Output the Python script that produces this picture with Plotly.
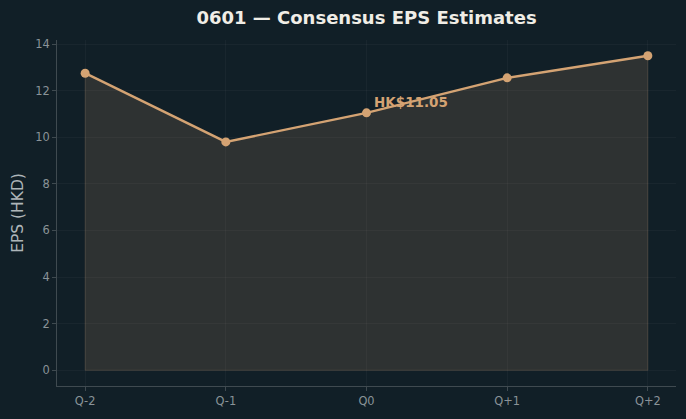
import plotly.graph_objects as go

quarters = ["Q-2", "Q-1", "Q0", "Q+1", "Q+2"]
eps = [12.75, 9.80, 11.05, 12.55, 13.50]
highlight_idx = 2
highlight_label = "HK$11.05"

BG = "#111f27"
ORANGE = "#d4a373"
FILL = "rgba(212,163,115,0.15)"
GRID = "rgba(255,255,255,0.035)"
TICK = "#8a9398"
SPINE = "#3f4a50"

fig = go.Figure()

# fill polygon (area to zero) with faint edge
fig.add_trace(go.Scatter(
    x=quarters + [quarters[-1], quarters[0], quarters[0]],
    y=eps + [0, 0, eps[0]],
    mode="lines", fill="toself", fillcolor=FILL,
    line=dict(color="rgba(212,163,115,0.18)", width=1),
    hoverinfo="skip", showlegend=False,
))

fig.add_trace(go.Scatter(
    x=quarters, y=eps, mode="lines+markers",
    line=dict(color=ORANGE, width=2.4),
    marker=dict(color=ORANGE, size=9),
    showlegend=False,
))

fig.add_annotation(
    x=quarters[highlight_idx], y=eps[highlight_idx],
    text="<b>" + highlight_label + "</b>", showarrow=False,
    xanchor="left", yanchor="middle", xshift=5, yshift=11,
    font=dict(family="DejaVu Sans", size=13.5, color=ORANGE),
)

fig.update_layout(
    width=686, height=419,
    paper_bgcolor=BG, plot_bgcolor=BG,
    margin=dict(l=57, r=10, t=40, b=33),
    font=dict(family="DejaVu Sans", color=TICK),
    title=dict(text="<b>0601 — Consensus EPS Estimates</b>",
               x=0.5, xref="paper", xanchor="center",
               y=1 - 18 / 419, yanchor="middle",
               font=dict(family="DejaVu Sans", size=18, color="#f0ede6")),
    xaxis=dict(
        type="category", range=[-0.2, 4.2],
        showgrid=True, gridcolor=GRID, gridwidth=1,
        showline=True, linecolor=SPINE, linewidth=1,
        ticks="outside", ticklen=4, tickcolor=SPINE,
        tickfont=dict(size=11.4, color=TICK),
        zeroline=False,
    ),
    yaxis=dict(
        range=[-0.675, 14.175], dtick=2,
        showgrid=True, gridcolor=GRID, gridwidth=1,
        showline=True, linecolor=SPINE, linewidth=1,
        ticks="outside", ticklen=4, tickcolor=SPINE,
        tickfont=dict(size=11.4, color=TICK),
        zeroline=False,
        title=dict(text="EPS (HKD)", font=dict(size=15.5, color="#aeb5b9"), standoff=7),
    ),
)

fig.write_html("out.html")
